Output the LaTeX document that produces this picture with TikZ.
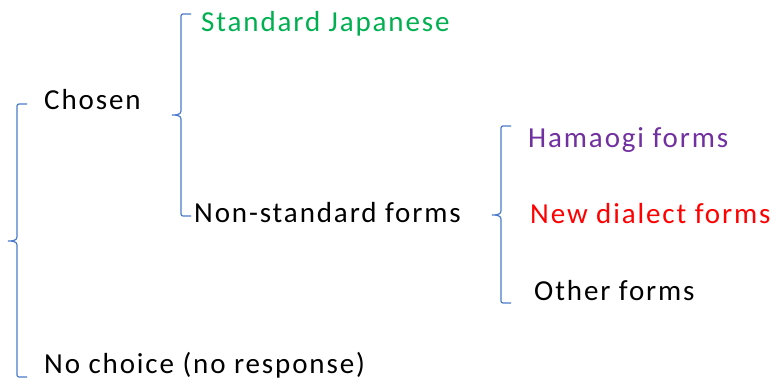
\documentclass[tikz,border=0pt]{standalone}
\usepackage{fontspec}
\setmainfont[LetterSpace=6.5]{Carlito}

\definecolor{bracketblue}{HTML}{4A7BCB}
\definecolor{stdgreen}{HTML}{00B050}
\definecolor{hamapurple}{HTML}{7030A0}

% one bracket: x, top, middle, bottom
\newcommand{\choicebrace}[4]{%
  \draw[brace] (#1+10,#2) -- (#1+2,#2) to[out=180,in=90] (#1,#2+2)
    -- (#1,#3-4) to[out=-90,in=0] (#1-9,#3) to[out=0,in=90] (#1,#3+4)
    -- (#1,#4-2) to[out=-90,in=180] (#1+2,#4) -- (#1+10,#4);}

\begin{document}
\begin{tikzpicture}[x=1pt, y=-1pt,
    brace/.style={color=bracketblue, line width=1.2pt},
    label/.style={anchor=base west, inner sep=0pt, font=\fontsize{29}{31}\selectfont}]
  \useasboundingbox (0, 0) rectangle (773, 383);

  \choicebrace{17}{104}{241}{377}
  \choicebrace{181}{14}{115}{216}
  \choicebrace{501}{126}{215}{303}

  \node[label] (chosen) at (44, 109) {Chosen};
  \node[label] (nochoice) at (44, 373) {No choice (no response)};

  \node[label, text=stdgreen] (standard) at (201, 31) {Standard Japanese};
  \node[label] (nonstandard) at (194, 222) {Non-standard forms};

  \node[label, text=hamapurple] (hamaogi) at (528, 147) {Hamaogi forms};
  \node[label, text=red] (newdialect) at (530, 223) {New dialect forms};
  \node[label] (other) at (534, 300) {Other forms};

\end{tikzpicture}
\end{document}
